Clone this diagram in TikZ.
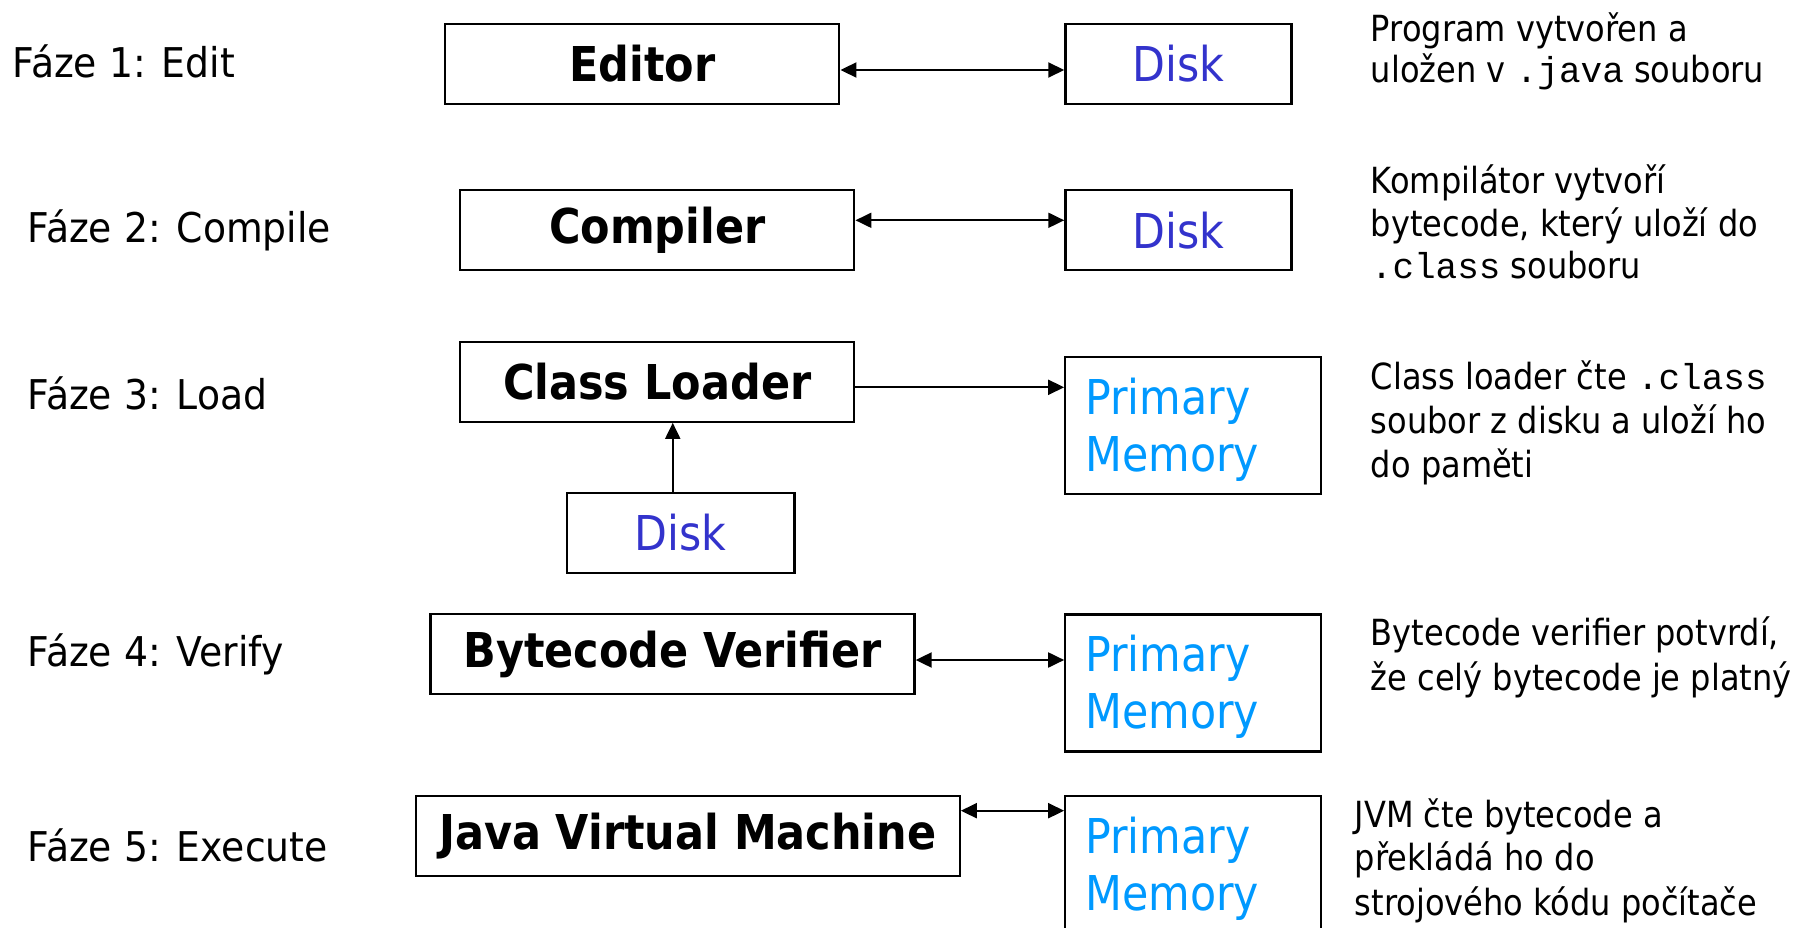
\documentclass[tikz,border=0pt]{standalone}
\usepackage{fontspec}
\setmainfont{DejaVu Sans}[FakeStretch=0.89]
\newfontfamily\toolfont{DejaVu Sans}[FakeStretch=0.895]
\newfontfamily\phasefont{DejaVu Sans}[FakeStretch=0.92]
\newfontfamily\codefont{Liberation Mono}
\usetikzlibrary{arrows.meta}
\definecolor{diskblue}{HTML}{3333CC}
\definecolor{memblue}{HTML}{0099FF}
\newcommand{\code}[1]{{\codefont #1}}
\newcommand{\memtext}{\rule{0pt}{45pt}Primary\\Memory}

\begin{document}
\begin{tikzpicture}[x=1pt,y=-1pt,
  frame/.style={draw, line width=2.3pt, inner sep=0pt},
  tool/.style={frame, minimum height=80pt, font=\fontsize{48}{57}\toolfont\bfseries},
  disk/.style={frame, minimum width=226pt, minimum height=80pt,
    text=diskblue, font=\fontsize{48}{57}\selectfont},
  memory/.style={frame, minimum height=137pt, text width=216pt, inner xsep=20pt,
    align=left, text=memblue, font=\fontsize{48}{57}\selectfont},
  phase/.style={anchor=base west, inner sep=0pt, font=\fontsize{41}{49}\phasefont},
  note/.style={anchor=base west, inner sep=0pt, font=\fontsize{36}{44}\selectfont},
  tip/.tip={Triangle[length=16pt,width=15pt]},
  link/.style={line width=2pt, -tip},
  both/.style={line width=2pt, tip-tip}
]
\useasboundingbox (0,0) rectangle (1805,928);

% phase labels
\node[phase] (p1) at (12.6,77.3) {Fáze 1: Edit};
\node[phase] (p2) at (27.6,243) {Fáze 2: Compile};
\node[phase] (p3) at (27.6,409) {Fáze 3: Load};
\node[phase] (p4) at (27.6,666.7) {Fáze 4: Verify};
\node[phase] (p5) at (27.6,861.7) {Fáze 5: Execute};

% tools
\node[tool, minimum width=394pt] (editor)   at (642.3,64)   {Editor};
\node[tool, minimum width=394pt] (compiler) at (657.3,230.3) {Compiler};
\node[tool, minimum width=394pt] (loader)   at (657.3,381.7) {Class Loader};
\node[tool, minimum width=484pt] (verifier) at (672.5,654)  {Bytecode Verifier};
\node[tool, minimum width=544pt] (jvm)      at (687.7,835.7) {Java Virtual Machine};

% storage
\node[disk] (disk1) at (1178.4,64)    {Disk};
\node[disk] (disk2) at (1178.4,230.3) {Disk};
\node[disk, minimum width=227.5pt] (disk3) at (680.75,532.7) {Disk};
\node[memory, minimum width=256pt] (mem3) at (1193.3,425.7) {\memtext};
\node[memory, minimum width=256pt] (mem4) at (1193.3,682.9) {\memtext};
\node[memory, minimum width=256pt] (mem5) at (1193.3,864.5) {\memtext};

% connectors
\draw[both] ([yshift=-6pt]editor.east) -- ([yshift=-6pt]editor.east -| disk1.west);
\draw[both] ([yshift=10pt]compiler.east) -- ([yshift=10pt]compiler.east -| disk2.west);
\draw[link] ([yshift=-5.6pt]loader.east) -- ([yshift=-5.6pt]loader.east -| mem3.west);
\draw[link] ([xshift=-8pt]disk3.north) -- ([xshift=-8pt]disk3.north |- loader.south);
\draw[both] ([yshift=-6pt]verifier.east) -- ([yshift=-6pt]verifier.east -| mem4.west);
\draw[both] ([yshift=25pt]jvm.east) -- ([yshift=25pt]jvm.east -| mem5.west);

% descriptions
\node[note] (n1a) at (1370.7,42) {Program vytvořen a};
\node[note] (n1b) at (1370.7,83) {uložen v \code{.java} souboru};
\node[note] (n2a) at (1370.7,194) {Kompilátor vytvoří};
\node[note] (n2b) at (1370.7,237) {bytecode, který uloží do};
\node[note] (n2c) at (1370.7,278) {\code{.class} souboru};
\node[note] (n3a) at (1370.7,389) {Class loader čte \code{.class}};
\node[note] (n3b) at (1370.7,433) {soubor z disku a uloží ho};
\node[note] (n3c) at (1370.7,477) {do paměti};
\node[note] (n4a) at (1370.7,645) {Bytecode verifier potvrdí,};
\node[note] (n4b) at (1370.7,690) {že celý bytecode je platný};
\node[note] (n5a) at (1354.6,827) {JVM čte bytecode a};
\node[note] (n5b) at (1354.6,870) {překládá ho do};
\node[note] (n5c) at (1354.6,915) {strojového kódu počítače};
\end{tikzpicture}
\end{document}
